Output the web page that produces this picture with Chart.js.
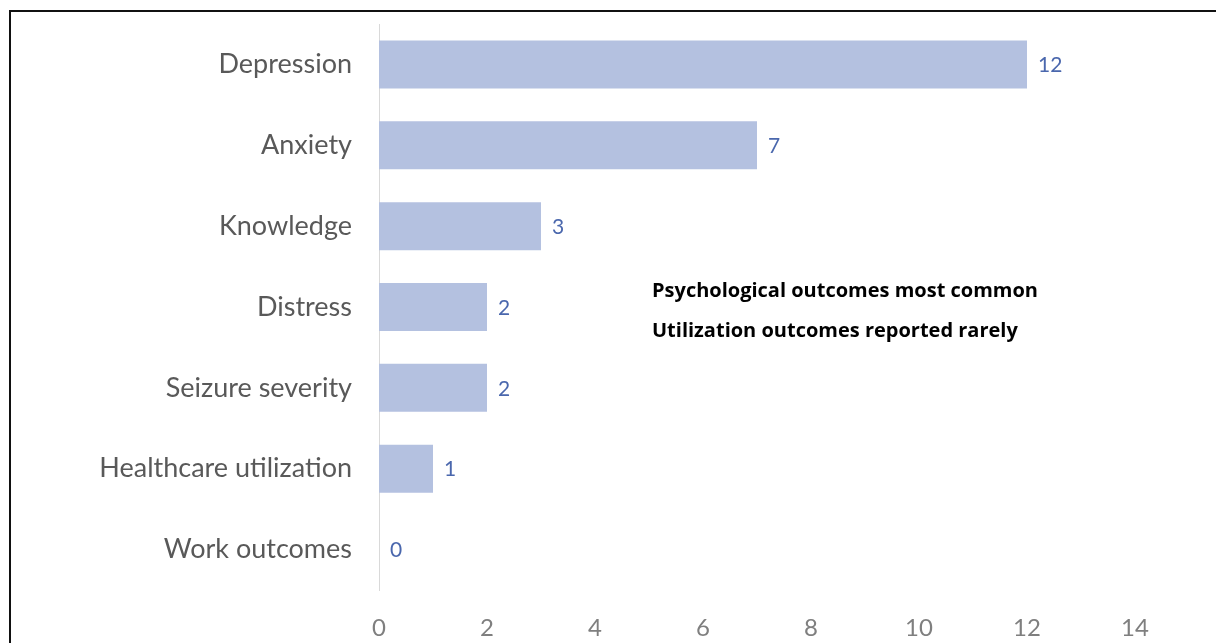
<!DOCTYPE html>
<html>
<head>
<meta charset="utf-8">
<script src="https://cdn.jsdelivr.net/npm/chart.js@4"></script>
<style>
  html, body { margin: 0; padding: 0; background: #fff; }
  #wrap { position: relative; width: 1216px; height: 643px; }
</style>
</head>
<body>
<div id="wrap"><canvas id="myChart" width="1216" height="643"></canvas></div>
<script>
var categories = ['Depression', 'Anxiety', 'Knowledge', 'Distress', 'Seizure severity', 'Healthcare utilization', 'Work outcomes'];
var counts = [12, 7, 3, 2, 2, 1, 0];
var notes = ['Psychological outcomes most common', 'Utilization outcomes reported rarely'];

// frame line on top and left, like the original slide
var framePlugin = {
  id: 'frame',
  beforeDraw: function(chart) {
    var c = chart.ctx;
    c.save();
    c.fillStyle = '#fff';
    c.fillRect(0, 0, chart.width, chart.height);
    c.strokeStyle = '#111';
    c.lineWidth = 2;
    c.beginPath();
    c.moveTo(10, chart.height);
    c.lineTo(10, 11);
    c.lineTo(chart.width, 11);
    c.stroke();
    c.restore();
  }
};

var valueLabels = {
  id: 'valueLabels',
  afterDatasetsDraw: function(chart) {
    var c = chart.ctx;
    var meta = chart.getDatasetMeta(0);
    c.save();
    c.font = '21px Lato';
    c.fillStyle = '#4a67ad';
    c.textBaseline = 'middle';
    c.textAlign = 'left';
    meta.data.forEach(function(bar, i) {
      c.fillText(String(counts[i]), bar.x + 11, bar.y + 1);
    });
    // side notes
    c.font = 'bold 20px "Open Sans"';
    c.fillStyle = '#000';
    c.fillText(notes[0], 652, 291);
    c.fillText(notes[1], 652, 331);
    c.restore();
  }
};

var ctx = document.getElementById('myChart').getContext('2d');
var myChart = new Chart(ctx, {
  type: 'bar',
  data: {
    labels: categories,
    datasets: [{
      data: counts,
      backgroundColor: '#b4c1e0',
      borderWidth: 0,
      categoryPercentage: 1,
      barPercentage: 0.594
    }]
  },
  plugins: [framePlugin, valueLabels],
  options: {
    indexAxis: 'y',
    responsive: false,
    animation: false,
    layout: { padding: { top: 24, right: 81, left: 0, bottom: 0 } },
    plugins: {
      legend: { display: false },
      tooltip: { enabled: false }
    },
    scales: {
      x: {
        min: 0,
        max: 14,
        ticks: { stepSize: 2, color: '#7f7f7f', font: { family: 'Lato', size: 24 }, padding: 24 },
        grid: { display: false, drawTicks: false },
        border: { display: false },
        afterFit: function(s) { s.height = 53; s.paddingLeft = 0; s.paddingRight = 0; }
      },
      y: {
        ticks: { color: '#595959', font: { family: 'Lato', size: 27 }, padding: 27 },
        grid: { display: false, drawTicks: false },
        border: { display: true, color: '#d9d9d9', width: 1 },
        afterFit: function(s) { s.width = 379; s.paddingTop = 0; s.paddingBottom = 0; }
      }
    }
  }
});
</script>
</body>
</html>
